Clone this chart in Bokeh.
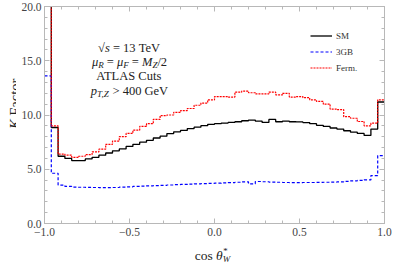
import numpy as np
from math import pi
from bokeh.plotting import figure
from bokeh.layouts import column, row
from bokeh.models import Label, Legend, LegendItem, LinearAxis, FixedTicker, Range1d
from bokeh.embed import file_html
from bokeh.resources import INLINE

# ---------------- data ----------------
bin_edges = np.linspace(-1.0, 1.0, 51)

sm = [25.0, 8.85, 6.2, 6.0, 5.8, 5.8, 5.95, 6.1, 6.3, 6.5,
      6.7, 6.87, 7.1, 7.3, 7.5, 7.67, 7.88, 8.05, 8.29, 8.45,
      8.58, 8.75, 8.88, 9.02, 9.14, 9.2, 9.26, 9.32, 9.38, 9.47,
      9.53, 9.44, 9.32, 9.59, 9.38, 9.44, 9.38, 9.36, 9.3, 9.2,
      9.05, 8.95, 8.8, 8.7, 8.55, 8.42, 8.3, 8.12, 8.7, 11.2]

gb3 = [13.6, 4.63, 3.54, 3.42, 3.36, 3.34, 3.33, 3.32, 3.31, 3.31,
       3.32, 3.35, 3.38, 3.42, 3.44, 3.47, 3.5, 3.52, 3.55, 3.58,
       3.6, 3.63, 3.66, 3.68, 3.7, 3.72, 3.74, 3.76, 3.8, 3.84,
       3.66, 3.87, 3.85, 3.82, 3.8, 3.78, 3.77, 3.77, 3.78, 3.78,
       3.79, 3.8, 3.82, 3.84, 3.88, 3.92, 3.97, 4.02, 4.42, 6.26]

ferm = [25.0, 9.0, 6.4, 6.3, 6.1, 6.2, 6.35, 6.6, 6.85, 7.3,
        7.6, 8.0, 8.3, 8.6, 8.95, 9.2, 9.6, 9.95, 10.0, 10.25,
        10.4, 10.6, 10.9, 11.1, 11.4, 11.7, 11.7, 11.65, 12.1, 12.2,
        12.05, 11.95, 11.95, 12.1, 11.85, 12.0, 11.65, 11.7, 11.6, 11.4,
        11.25, 11.0, 10.55, 10.5, 9.85, 9.7, 9.4, 9.0, 9.25, 11.4]

series_names = ["SM", "3GB", "Ferm."]

x_ticks = [-1.0, -0.5, 0.0, 0.5, 1.0]
x_tick_labels = ["\u22121.0", "\u22120.5", "0.0", "0.5", "1.0"]
x_minor = [round(-1.0 + 0.1 * i, 2) for i in range(21)]
y_ticks = [0, 5, 10, 15, 20]
y_tick_labels = ["0.0", "5.0", "10.0", "15.0", "20.0"]
y_minor = list(range(0, 21))

# ---------------- main figure ----------------
FONT = "Liberation Serif"
GRAY = "#b8b8b8"
TICK_TXT = "#444444"
NB = "\u00a0"

p = figure(width=379, height=243,
           x_range=Range1d(-1.0, 1.0), y_range=Range1d(0.0, 20.0),
           output_backend="svg", toolbar_location=None,
           min_border_left=28, min_border_right=11,
           min_border_top=6, min_border_bottom=20)
p.xgrid.visible = False
p.ygrid.visible = False
p.outline_line_color = GRAY
p.background_fill_color = "white"

def style_axis(ax, ticks, minor, labels, show_labels=True):
    ax.ticker = FixedTicker(ticks=ticks, minor_ticks=minor)
    ax.axis_line_color = GRAY
    ax.major_tick_line_color = GRAY
    ax.minor_tick_line_color = GRAY
    ax.major_tick_in = 5
    ax.major_tick_out = 0
    ax.minor_tick_in = 3
    ax.minor_tick_out = 0
    ax.major_label_text_font = FONT
    ax.major_label_text_color = TICK_TXT
    ax.major_label_text_font_size = "11.5px"
    if show_labels:
        ax.major_label_overrides = {t: l for t, l in zip(ticks, labels)}
        ax.major_label_standoff = 4
    else:
        ax.major_label_overrides = {t: "" for t in ticks}
        ax.major_label_standoff = 0

style_axis(p.xaxis[0], x_ticks, x_minor, x_tick_labels)
style_axis(p.yaxis[0], y_ticks, y_minor, y_tick_labels)
p.yaxis[0].major_label_standoff = 3

top_ax = LinearAxis()
right_ax = LinearAxis()
style_axis(top_ax, x_ticks, x_minor, x_tick_labels, show_labels=False)
style_axis(right_ax, y_ticks, y_minor, y_tick_labels, show_labels=False)
p.add_layout(top_ax, "above")
p.add_layout(right_ax, "right")

# ---------------- histograms ----------------
def ext(v):
    return list(v) + [v[-1]]

r_sm = p.step(bin_edges, ext(sm), mode="after", line_color="black", line_width=1.3)
r_gb = p.step(bin_edges, ext(gb3), mode="after", line_color="#0000ff", line_width=1.2,
              line_dash="3 2")
r_fe = p.step(bin_edges, ext(ferm), mode="after", line_color="#ff0000", line_width=1.2,
              line_dash="2 1")

legend = Legend(items=[LegendItem(label=series_names[0], renderers=[r_sm]),
                       LegendItem(label=series_names[1], renderers=[r_gb]),
                       LegendItem(label=series_names[2], renderers=[r_fe])],
                location=(266, 148), orientation="vertical",
                glyph_width=22, glyph_height=15, label_height=15, spacing=1,
                label_standoff=4, padding=0, margin=0,
                border_line_color=None, background_fill_alpha=0,
                label_text_font=FONT, label_text_font_size="9px",
                label_text_color="#333333")
p.add_layout(legend, "center")

# ---------------- composed math-like text ----------------
REG = {' ': 250, NB: 250, '=': 564, '>': 564, '/': 278, 'T': 611, 'e': 444, 'V': 722,
       'G': 722, 'A': 722, 'L': 611, 'S': 556, 'C': 667, 'u': 500, 't': 278,
       's': 389, ',': 250, '\u221a': 549, 'F': 556, 'a': 444, 'c': 444,
       'o': 500, 'r': 333}
ITA = {'\u03bc': 500, 'R': 611, 'F': 611, 'M': 833, 'Z': 556, 'p': 500,
       'T': 556, ',': 250, 's': 389, 'K': 667, '\u03b8': 500, 'W': 833, '*': 500}

def tw(text, italic, size):
    tab = ITA if italic else REG
    w = 0
    for ch in text:
        if ch.isdigit():
            w += 500
        else:
            w += tab.get(ch, REG.get(ch, 520))
    return w * size / 1000.0

def compose(fig, segs, x, y, angle=0.0, color="#222222"):
    # segs: (text, italic, size, shift, advances)
    total = sum(tw(t, it, s) for t, it, s, sh, adv in segs if adv)
    pos = -total / 2.0
    for t, it, s, sh, adv in segs:
        kw = dict(x=x, y=y, text=t.replace(" ", NB), text_font=FONT,
                  text_font_size=f"{s}px",
                  text_font_style="italic" if it else "normal",
                  text_color=color, text_align="left", text_baseline="alphabetic")
        if angle == 0.0:
            kw.update(x_offset=pos, y_offset=sh)
        else:
            kw.update(x_offset=-sh, y_offset=pos, angle=angle)
        fig.add_layout(Label(**kw))
        if adv:
            pos += tw(t, it, s)

F1, F2 = 12.5, 9
cx = -0.5
compose(p, [("\u221a", False, F1, 0, True), ("s", True, F1, 0, True),
            (" = 13 TeV", False, F1, 0, True)], cx, 16.13)
compose(p, [("\u03bc", True, F1, 0, True), ("R", True, F2, -3, True),
            (" = ", False, F1, 0, True), ("\u03bc", True, F1, 0, True),
            ("F", True, F2, -3, True), (" = ", False, F1, 0, True),
            ("M", True, F1, 0, True), ("Z", True, F2, -3, True),
            ("/2", False, F1, 0, True)], cx, 14.84)
compose(p, [("ATLAS Cuts", False, F1, 0, True)], cx, 13.55)
compose(p, [("p", True, F1, 0, True), ("T,Z", True, F2, -3, True),
            (" > 400 GeV", False, F1, 0, True)], cx, 12.17)

# ---------------- axis title strips ----------------
def strip(w, h):
    f = figure(width=w, height=h, x_range=Range1d(0, w), y_range=Range1d(0, h),
               output_backend="svg", toolbar_location=None,
               x_axis_location=None, y_axis_location=None,
               min_border=0, min_border_left=0, min_border_right=0,
               min_border_top=0, min_border_bottom=0)
    f.grid.visible = False
    f.outline_line_color = None
    f.background_fill_color = "white"
    return f

yl = strip(16, 243)
compose(yl, [("K", True, 14.5, 0, True), (" Factor", False, 14.5, 0, True)],
        14, 134, angle=pi / 2)

xl = strip(395, 19)
compose(xl, [("cos ", False, 13.5, 0, True), ("\u03b8", True, 13.5, 0, True),
             ("*", True, 9, 5, False), ("W", True, 9, -3, True)], 212, 7)

layout = column(row(yl, p), xl)
open("out.html", "w").write(file_html(layout, INLINE))
